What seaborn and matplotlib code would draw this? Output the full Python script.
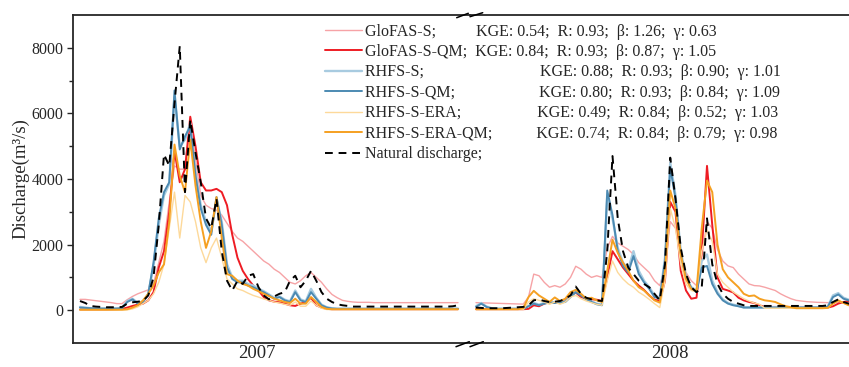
import matplotlib
matplotlib.use("Agg")
import matplotlib.pyplot as plt
import matplotlib.ticker as mticker
from matplotlib.lines import Line2D
import numpy as np
import pandas as pd
import seaborn as sns

# ---------------- data (5-day steps, day-of-year) ----------------
days = list(range(1, 366, 5))  # 73 points per year
years = ["2007", "2008"]
year_tick_day = [169, 186]

series = ["GloFAS-S", "GloFAS-S-QM", "RHFS-S", "RHFS-S-QM",
          "RHFS-S-ERA", "RHFS-S-ERA-QM", "Natural discharge"]
stats = ["KGE: 0.54;  R: 0.93;  β: 1.26;  γ: 0.63",
         "KGE: 0.84;  R: 0.93;  β: 0.87;  γ: 1.05",
         "KGE: 0.88;  R: 0.93;  β: 0.90;  γ: 1.01",
         "KGE: 0.80;  R: 0.93;  β: 0.84;  γ: 1.09",
         "KGE: 0.49;  R: 0.84;  β: 0.52;  γ: 1.03",
         "KGE: 0.74;  R: 0.84;  β: 0.79;  γ: 0.98",
         ""]

glofas_s_2007 = [330, 330, 310, 290, 270, 250, 230, 200, 200, 320,
                 420, 500, 560, 620, 800, 1450, 2100, 3300, 4400, 4300,
                 4300, 5700, 4600, 3500, 3200, 3100, 3050, 2900, 2650, 2400,
                 2200, 2100, 1950, 1800, 1650, 1500, 1400, 1250, 1150, 1000,
                 850, 800, 900, 1050, 1150, 1000, 850, 650, 480, 380,
                 300, 270, 250, 240, 240, 240, 230, 230, 230, 230,
                 230, 230, 230, 230, 230, 230, 230, 230, 230, 230,
                 230, 230, 230]
glofas_qm_2007 = [20, 20, 20, 20, 20, 20, 25, 30, 40, 80,
                  130, 170, 200, 300, 550, 1300, 1800, 3000, 4850, 3900,
                  4300, 5900, 5000, 3900, 3650, 3650, 3700, 3600, 3200, 2300,
                  1600, 1200, 950, 750, 600, 400, 300, 260, 240, 200,
                  150, 130, 200, 250, 380, 150, 80, 40, 30, 30,
                  30, 30, 30, 30, 30, 30, 30, 30, 30, 30,
                  30, 30, 30, 30, 30, 30, 30, 30, 30, 30,
                  30, 30, 30]
rhfs_s_2007 = [100, 80, 60, 50, 50, 50, 50, 50, 70, 280,
               350, 220, 260, 480, 1350, 2600, 3500, 3850, 6500, 5000,
               5200, 5700, 4200, 3200, 2700, 2400, 3400, 2700, 1400, 1000,
               900, 900, 800, 750, 650, 580, 480, 380, 420, 320,
               270, 600, 330, 270, 650, 380, 170, 90, 60, 50,
               50, 50, 50, 50, 50, 50, 50, 50, 50, 50,
               50, 50, 50, 50, 50, 50, 50, 50, 50, 50,
               50, 50, 50]
rhfs_qm_2007 = [80, 70, 60, 50, 50, 50, 50, 50, 60, 250,
                330, 200, 250, 500, 1450, 2800, 3600, 3900, 6700, 4900,
                5300, 5600, 4100, 3100, 2600, 2300, 3450, 2600, 1300, 950,
                850, 850, 750, 700, 620, 550, 450, 350, 400, 300,
                250, 550, 300, 250, 550, 350, 150, 80, 50, 40,
                40, 40, 40, 40, 40, 40, 40, 40, 40, 40,
                40, 40, 40, 40, 40, 40, 40, 40, 40, 40,
                40, 40, 40]
rhfs_era_2007 = [10, 10, 10, 10, 10, 10, 10, 10, 10, 10,
                 40, 100, 200, 300, 500, 850, 1400, 2500, 3600, 2200,
                 3500, 3300, 2700, 1900, 1450, 1900, 2200, 1600, 950, 800,
                 650, 600, 520, 450, 400, 340, 300, 250, 220, 180,
                 150, 250, 120, 120, 280, 150, 60, 20, 20, 20,
                 20, 20, 20, 20, 20, 20, 20, 20, 20, 20,
                 20, 20, 20, 20, 20, 20, 20, 20, 20, 20,
                 20, 20, 20]
rhfs_era_qm_2007 = [15, 15, 15, 15, 15, 15, 15, 15, 15, 30,
                    80, 150, 300, 500, 750, 1150, 1400, 2700, 5050, 4100,
                    3600, 5200, 3800, 2700, 1900, 2400, 3450, 2200, 1100, 1050,
                    900, 800, 750, 650, 580, 500, 430, 350, 300, 250,
                    220, 350, 200, 200, 400, 250, 100, 40, 30, 30,
                    30, 30, 30, 30, 30, 30, 30, 30, 30, 30,
                    30, 30, 30, 30, 30, 30, 30, 30, 30, 30,
                    30, 30, 30]
natural_2007 = [280, 220, 130, 110, 100, 90, 90, 90, 100, 200,
                240, 260, 280, 450, 1000, 2600, 4750, 4400, 6300, 8050,
                3600, 5800, 4800, 3900, 2800, 2500, 3400, 1800, 900, 600,
                900, 800, 1050, 1100, 700, 450, 330, 420, 500, 550,
                900, 1050, 700, 900, 1200, 900, 550, 350, 250, 180,
                150, 130, 110, 110, 110, 110, 110, 110, 110, 110,
                110, 110, 110, 110, 110, 110, 110, 110, 110, 110,
                110, 120, 150]

glofas_s_2008 = [230, 225, 220, 215, 210, 205, 200, 195, 190, 185,
                 400, 1100, 1050, 850, 700, 750, 700, 800, 1000, 1340,
                 1250, 1100, 1000, 1050, 1000, 1900, 2250, 2050, 1950, 1850,
                 1700, 1450, 1300, 1150, 900, 750, 1300, 2700, 2500, 1600,
                 1150, 900, 750, 1600, 2700, 2500, 1850, 1500, 1350, 1300,
                 1100, 950, 800, 750, 740, 700, 650, 600, 500, 420,
                 350, 300, 280, 260, 250, 240, 235, 230, 230, 230,
                 230, 230, 230]
glofas_qm_2008 = [30, 30, 30, 30, 30, 30, 30, 30, 30, 30,
                  40, 150, 120, 200, 250, 230, 240, 300, 450, 540,
                  400, 350, 330, 320, 280, 1000, 1800, 1550, 1300, 1100,
                  900, 750, 620, 450, 320, 280, 900, 3300, 3000, 1200,
                  600, 350, 380, 1800, 4400, 2600, 1000, 650, 600, 540,
                  380, 300, 250, 220, 150, 100, 100, 100, 100, 100,
                  100, 100, 100, 100, 100, 80, 80, 80, 120, 200,
                  250, 280, 280]
rhfs_s_2008 = [120, 220, 110, 60, 50, 50, 50, 50, 50, 50,
               130, 220, 170, 220, 250, 240, 250, 270, 420, 580,
               480, 350, 270, 200, 170, 3450, 2800, 1900, 1450, 1250,
               1800, 1200, 900, 700, 450, 380, 1600, 4500, 3500, 1800,
               1000, 700, 600, 1500, 1700, 900, 550, 330, 220, 170,
               130, 90, 90, 90, 90, 90, 90, 90, 90, 90,
               90, 90, 90, 90, 90, 90, 90, 110, 450, 520,
               380, 320, 300]
rhfs_qm_2008 = [100, 200, 100, 50, 40, 40, 40, 40, 40, 40,
                120, 200, 150, 200, 230, 220, 230, 250, 400, 550,
                450, 330, 250, 180, 150, 3650, 2900, 1800, 1350, 1150,
                1650, 1100, 850, 650, 400, 350, 1500, 4350, 3400, 1700,
                1000, 680, 550, 1300, 1350, 800, 500, 300, 200, 150,
                120, 80, 80, 80, 80, 80, 80, 80, 80, 80,
                80, 80, 80, 80, 80, 80, 80, 100, 400, 480,
                350, 300, 280]
rhfs_era_2008 = [20, 20, 20, 20, 20, 20, 20, 20, 20, 20,
                 250, 350, 300, 250, 180, 250, 180, 250, 400, 450,
                 350, 280, 230, 180, 150, 900, 1500, 1150, 950, 800,
                 700, 550, 450, 330, 200, 80, 900, 3100, 2500, 1400,
                 800, 600, 560, 1800, 2450, 2100, 1100, 850, 700, 550,
                 450, 350, 280, 220, 180, 60, 60, 60, 60, 60,
                 60, 60, 60, 60, 60, 60, 60, 60, 200, 280,
                 220, 150, 150]
rhfs_era_qm_2008 = [30, 30, 30, 30, 30, 30, 30, 30, 30, 60,
                    400, 590, 450, 350, 250, 390, 280, 350, 550, 620,
                    500, 350, 380, 300, 250, 1200, 2150, 1750, 1450, 1200,
                    900, 700, 600, 450, 300, 230, 1200, 3650, 3100, 1700,
                    950, 650, 590, 2500, 3950, 3600, 2000, 1250, 1000, 850,
                    700, 500, 430, 450, 350, 300, 280, 250, 180, 120,
                    90, 60, 60, 60, 60, 60, 60, 70, 200, 300,
                    220, 150, 150]
natural_2008 = [80, 70, 60, 60, 60, 60, 70, 80, 90, 100,
                150, 300, 330, 280, 250, 260, 280, 350, 450, 720,
                500, 380, 330, 300, 280, 1800, 4700, 2800, 1800, 1300,
                1100, 900, 800, 700, 500, 300, 1400, 4650, 3400, 1900,
                1100, 700, 550, 700, 2800, 1400, 800, 500, 350, 250,
                200, 150, 130, 130, 130, 130, 130, 130, 130, 130,
                130, 130, 130, 130, 130, 130, 130, 150, 250, 330,
                250, 200, 200]

data_by_year = {
    "2007": [glofas_s_2007, glofas_qm_2007, rhfs_s_2007, rhfs_qm_2007,
             rhfs_era_2007, rhfs_era_qm_2007, natural_2007],
    "2008": [glofas_s_2008, glofas_qm_2008, rhfs_s_2008, rhfs_qm_2008,
             rhfs_era_2008, rhfs_era_qm_2008, natural_2008],
}

# ---------------- styles ----------------
colors = {"GloFAS-S": "#F6A3A6", "GloFAS-S-QM": "#EE1C24",
          "RHFS-S": "#A8CBE0", "RHFS-S-QM": "#4C8AB2",
          "RHFS-S-ERA": "#FDD99A", "RHFS-S-ERA-QM": "#F5A021",
          "Natural discharge": "#000000"}
widths = {"GloFAS-S": 1.0, "GloFAS-S-QM": 1.4, "RHFS-S": 1.7, "RHFS-S-QM": 1.4,
          "RHFS-S-ERA": 1.0, "RHFS-S-ERA-QM": 1.4, "Natural discharge": 1.4}
dashes = {s: "" for s in series}
dashes["Natural discharge"] = (4, 3)

sns.set_style("ticks")
plt.rcParams["font.family"] = ["Liberation Serif", "DejaVu Serif"]

W, H = 849, 367
fig = plt.figure(figsize=(W / 100, H / 100), dpi=100)
top_px, bot_px = 15, 343
ax1 = fig.add_axes([73 / W, 1 - bot_px / H, (470 - 73) / W, (bot_px - top_px) / H])
ax2 = fig.add_axes([470 / W, 1 - bot_px / H, (849 - 470) / W, (bot_px - top_px) / H])

pxday = 1.05
xlims = [(1 - 7 / pxday, 1 + 390 / pxday), (1 - 6 / pxday, 1 + 373 / pxday)]

for ax, yr, xl, tday in zip([ax1, ax2], years, xlims, year_tick_day):
    frames = []
    for name, vals in zip(series, data_by_year[yr]):
        frames.append(pd.DataFrame({"day": days, "Q": vals, "series": name}))
    long = pd.concat(frames, ignore_index=True)
    sns.lineplot(data=long, x="day", y="Q", hue="series", hue_order=series,
                 palette=colors, size="series", sizes=widths, size_order=series,
                 style="series", dashes=dashes, style_order=series,
                 legend=False, ax=ax, estimator=None, sort=False)
    ax.set_xlim(*xl)
    ax.set_ylim(-1000, 9000)
    ax.set_xticks([tday])
    ax.set_xticklabels([yr])
    ax.tick_params(axis="x", length=0, labelsize=13.5, pad=1.5)
    ax.set_xlabel("")
    ax.set_ylabel("")
    for sp in ax.spines.values():
        sp.set_linewidth(1.3)
    ax.spines["right"].set_visible(False)

ax1.set_yticks([0, 2000, 4000, 6000, 8000])
ax1.yaxis.set_minor_locator(mticker.FixedLocator([1000, 3000, 5000, 7000]))
ax1.tick_params(axis="y", which="major", length=4.3, width=1.0, labelsize=11.4, pad=2.5)
ax1.tick_params(axis="y", which="minor", length=3.0, width=1.0)
ax1.set_ylabel("Discharge(m³/s)", fontsize=13.5, labelpad=1.5)

ax2.spines["left"].set_visible(False)
ax2.set_yticks([])
ax2.yaxis.set_minor_locator(mticker.NullLocator())

# break marks
def fx(px):
    return px / W

def fy(py):
    return 1 - py / H

for (x0, y0, x1, y1) in [(456.7, 17.7, 468.3, 13.3), (470, 16.7, 482.7, 12.7),
                         (456, 346.7, 469.3, 341.7), (470, 346.7, 483.3, 341.7)]:
    fig.add_artist(Line2D([fx(x0), fx(x1)], [fy(y0), fy(y1)],
                          transform=fig.transFigure, color="black", lw=1.1))

# legend
pads = [10, 2, 29, 21, 19, 11, 0]
labels = []
for name, st, p in zip(series, stats, pads):
    labels.append(name + ";" + " " * p + st if st else name + ";")
handles = [Line2D([], [], color=colors[s], lw=widths[s],
                  ls=(0, dashes[s]) if dashes[s] else "-") for s in series]
fig.legend(handles, labels, loc="upper left", bbox_to_anchor=(fx(325), fy(23.5)),
           frameon=False, fontsize=11.5, handlelength=2.3, handletextpad=0.2,
           labelspacing=0.28, borderpad=0, borderaxespad=0)

fig.savefig("out.png", dpi=100, facecolor="white")
